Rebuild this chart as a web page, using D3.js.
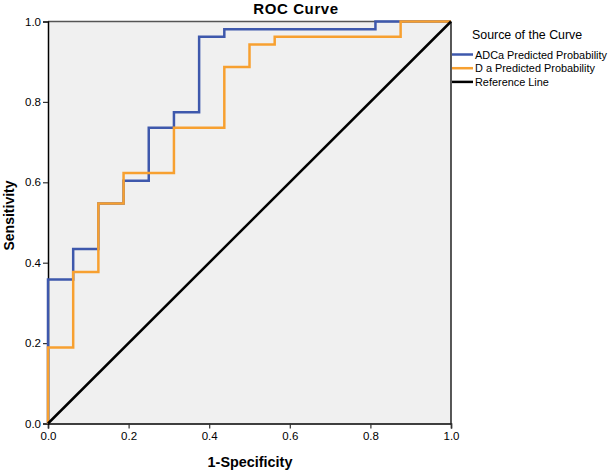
<!DOCTYPE html>
<html><head><meta charset="utf-8">
<script src="https://cdn.jsdelivr.net/npm/d3@7"></script>
<style>body{margin:0;background:#fff}svg{display:block}text{font-family:Arial,"Liberation Sans",sans-serif}</style>
</head><body>
<svg id="c" width="608" height="472"></svg>
<script>
const adcaFPR = [0, 0, 0.0625, 0.125, 0.1875, 0.25, 0.3125, 0.375, 0.4375, 0.8125, 1];
const adcaTPR = [0, 0.358, 0.434, 0.547, 0.604, 0.736, 0.774, 0.962, 0.981, 1, 1];
const daFPR = [0, 0, 0.0625, 0.125, 0.1875, 0.3125, 0.4375, 0.5, 0.5625, 0.875, 1];
const daTPR = [0, 0.189, 0.377, 0.547, 0.623, 0.736, 0.887, 0.943, 0.962, 1, 1];
const refFPR = [0, 1];
const refTPR = [0, 1];
const tickValues = [0, 0.2, 0.4, 0.6, 0.8, 1.0];
const seriesNames = ["ADCa Predicted Probability", "D a Predicted Probability", "Reference Line"];
const seriesColors = ["#3e58ac", "#f7a030", "#000000"];

const svg = d3.select("#c");
const L = 48, R = 451, T = 21.5, B = 423.5;
const x = d3.scaleLinear().domain([0, 1]).range([L, R]);
const y = d3.scaleLinear().domain([0, 1]).range([B, T]);

svg.append("rect").attr("x", L).attr("y", T).attr("width", R - L).attr("height", B - T).attr("fill", "#f0f0f0");
svg.append("line").attr("x1", L).attr("x2", R).attr("y1", T).attr("y2", T).attr("stroke", "#555").attr("stroke-width", 1.5);
svg.append("line").attr("x1", R).attr("x2", R).attr("y1", T).attr("y2", B).attr("stroke", "#222").attr("stroke-width", 1.5);

const fmt = d3.format(".1f");
const xAxis = svg.append("g").attr("transform", `translate(0,${B})`)
  .call(d3.axisBottom(x).tickValues(tickValues).tickFormat(fmt).tickSize(5).tickPadding(3));
const yAxis = svg.append("g").attr("transform", `translate(${L},0)`)
  .call(d3.axisLeft(y).tickValues(tickValues).tickFormat(fmt).tickSize(5).tickPadding(2));
[xAxis, yAxis].forEach(a => {
  a.select(".domain").attr("stroke", "#000").attr("stroke-width", 1.5);
  a.selectAll(".tick line").attr("stroke", "#333").attr("stroke-width", 1.2);
  a.selectAll(".tick text").attr("font-size", 11.5).attr("fill", "#000")
   .style("font-family", "Arial, 'Liberation Sans', sans-serif");
});

const line = d3.line().x(d => x(d[0])).y(d => y(d[1])).curve(d3.curveStepAfter);
const series = [
  d3.zip(adcaFPR, adcaTPR),
  d3.zip(daFPR, daTPR),
];
series.forEach((s, i) => {
  svg.append("path").datum(s).attr("d", line).attr("fill", "none")
    .attr("stroke", seriesColors[i]).attr("stroke-width", 2.5).attr("stroke-linejoin", "miter");
});
svg.append("path").datum(d3.zip(refFPR, refTPR))
  .attr("d", d3.line().x(d => x(d[0])).y(d => y(d[1])))
  .attr("stroke", seriesColors[2]).attr("stroke-width", 2.5).attr("fill", "none");

svg.append("text").attr("x", 296).attr("y", 13.5).attr("text-anchor", "middle")
  .attr("font-size", 15).attr("letter-spacing", 0.6).attr("font-weight", "bold").text("ROC Curve");
svg.append("text").attr("x", 250).attr("y", 466.5).attr("text-anchor", "middle")
  .attr("font-size", 14.4).attr("font-weight", "bold").text("1-Specificity");
svg.append("text").attr("transform", `translate(14,${(T + B) / 2 - 7}) rotate(-90)`).attr("text-anchor", "middle")
  .attr("font-size", 14).attr("font-weight", "bold").text("Sensitivity");

svg.append("text").attr("x", 472).attr("y", 38.5).attr("font-size", 12.4).text("Source of the Curve");
const leg = svg.append("g");
seriesNames.forEach((n, i) => {
  const yy = 54.5 + i * 13.7;
  leg.append("line").attr("x1", 452).attr("x2", 473).attr("y1", yy).attr("y2", yy)
    .attr("stroke", seriesColors[i]).attr("stroke-width", 2.5);
  leg.append("text").attr("x", 475).attr("y", yy + 4).attr("font-size", 10.9).text(n);
});
</script>
</body></html>
